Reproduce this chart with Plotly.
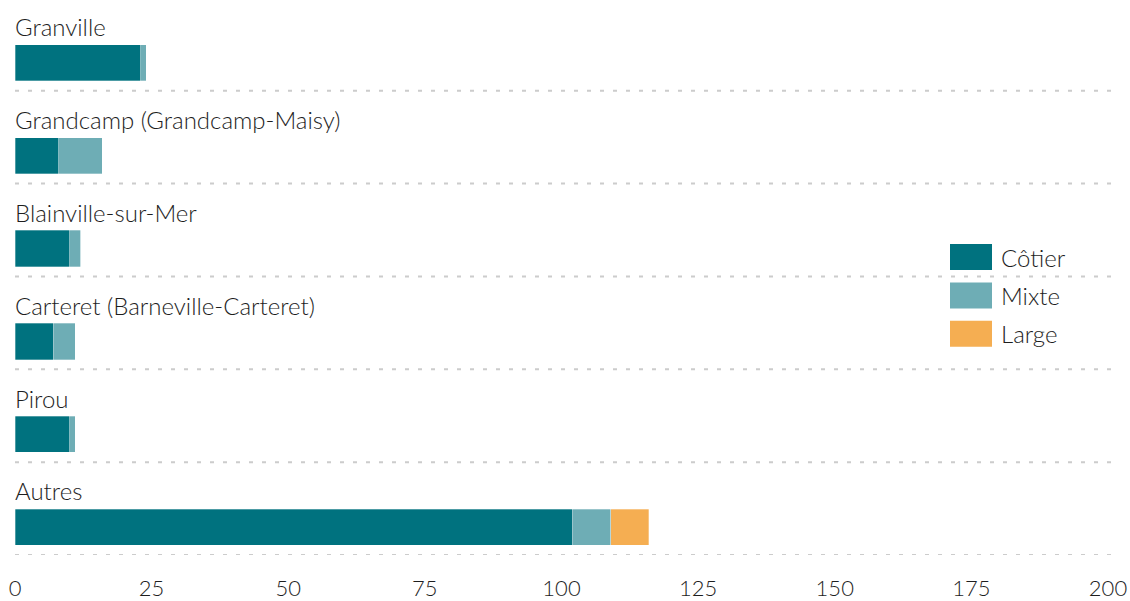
import plotly.graph_objects as go

categories = ["Granville", "Grandcamp (Grandcamp-Maisy)", "Blainville-sur-Mer",
              "Carteret (Barneville-Carteret)", "Pirou", "Autres"]
cotier = [23, 8, 10, 7, 10, 102]
mixte = [1, 8, 2, 4, 1, 7]
large = [0, 0, 0, 0, 0, 7]
series_names = ["Côtier", "Mixte", "Large"]
series_colors = ["#00727f", "#6eadb5", "#f5ae52"]
x_ticks = [0, 25, 50, 75, 100, 125, 150, 175, 200]

FONT = "Source Sans Pro, Lato, sans-serif"
TXT = "#1e1e1e"
W, H = 1130, 601
ML, MR, MT, MB = 15, 22, 0, 44
PW, PH = W - ML - MR, H - MT - MB

n = len(categories)
bar_pos = [i + 0.70 for i in range(n)]

fig = go.Figure()
for name, vals, col in zip(series_names, [cotier, mixte, large], series_colors):
    fig.add_trace(go.Bar(
        y=bar_pos, x=vals, orientation="h", name=name,
        marker=dict(color=col, line=dict(color="rgba(255,255,255,0.6)", width=0.5)),
        width=0.39, showlegend=False, hoverinfo="x+name",
    ))

shapes = []
annotations = []
for i, cat in enumerate(categories):
    annotations.append(dict(
        text=cat, xref="paper", x=0, xanchor="left", yref="y", y=i + 0.31,
        yanchor="middle", showarrow=False, xshift=-2,
        font=dict(family=FONT, size=24, color=TXT, weight=300),
    ))
    shapes.append(dict(
        type="line", xref="paper", x0=0, x1=1.004, yref="y", y0=i + 1, y1=i + 1,
        line=dict(color="#cccccc", width=2, dash="4px,9px"), layer="below",
    ))

# custom legend
def px_to_paper_x(px):
    return (px - ML) / PW

def px_to_paper_y(py):
    return 1 - (py - MT) / PH

for k, (name, col) in enumerate(zip(series_names, series_colors)):
    top = 245 + k * 38.5
    shapes.append(dict(
        type="rect", xref="paper", yref="paper",
        x0=px_to_paper_x(950), x1=px_to_paper_x(992),
        y0=px_to_paper_y(top), y1=px_to_paper_y(top + 26),
        fillcolor=col, line=dict(width=0), layer="above",
    ))
    annotations.append(dict(
        text=name, xref="paper", yref="paper",
        x=px_to_paper_x(999), y=px_to_paper_y(top + 13),
        xanchor="left", yanchor="middle", showarrow=False,
        font=dict(family=FONT, size=24, color=TXT, weight=300),
    ))

fig.update_layout(
    width=W, height=H,
    margin=dict(l=ML, r=MR, t=MT, b=MB),
    barmode="stack",
    plot_bgcolor="white", paper_bgcolor="white",
    shapes=shapes, annotations=annotations,
    xaxis=dict(range=[0, 200], tickvals=x_ticks, showgrid=False, zeroline=False,
               showline=False, ticks="", tickfont=dict(family=FONT, size=22, color=TXT, weight=300),
               ticklabelstandoff=18, fixedrange=True),
    yaxis=dict(range=[6, 6 - PH / 93.2], showgrid=False, zeroline=False,
               showticklabels=False, showline=False, fixedrange=True),
)

fig.write_html("out.html", config={"displayModeBar": False},
               post_script="document.body.style.margin='0';")
